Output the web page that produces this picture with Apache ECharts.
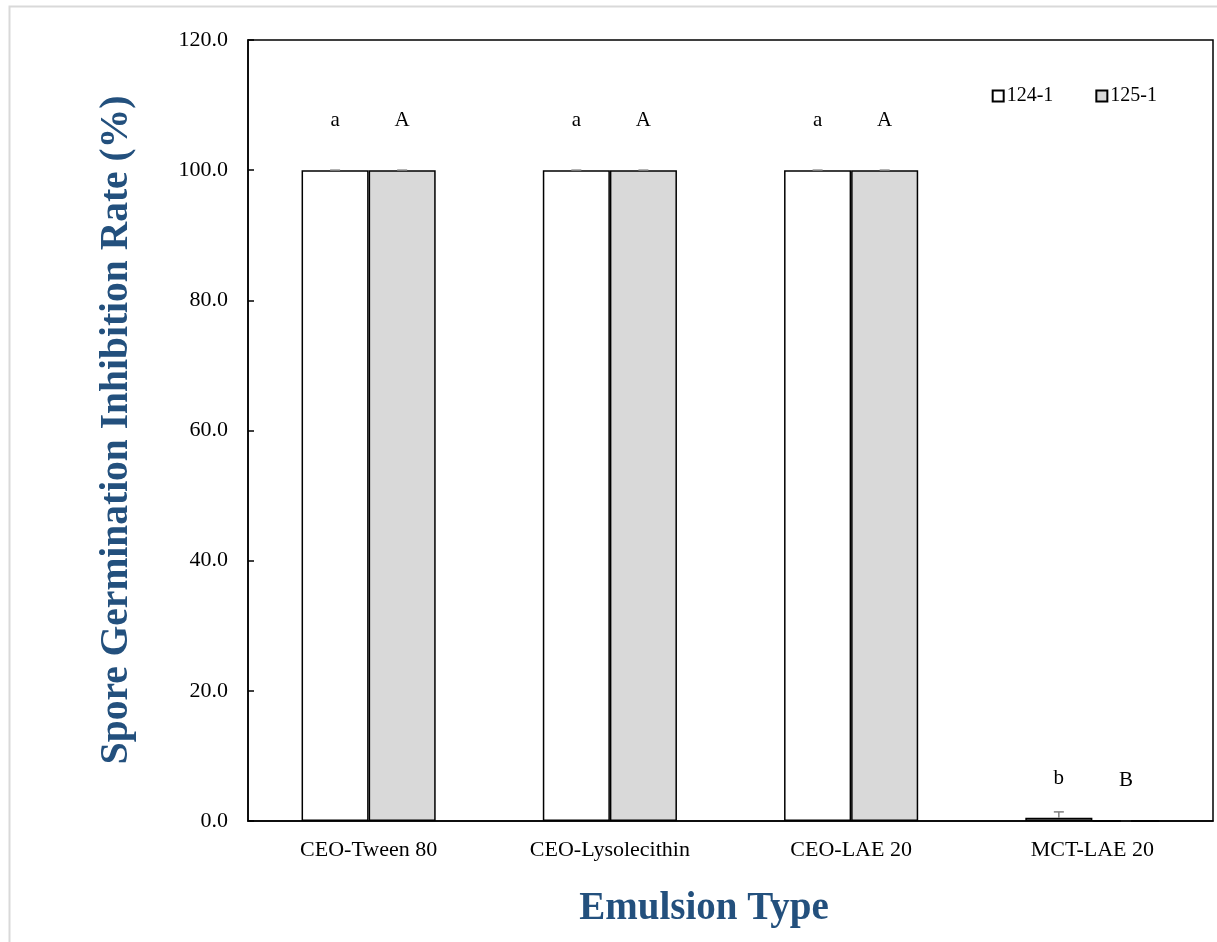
<!DOCTYPE html>
<html>
<head>
<meta charset="utf-8">
<title>Spore Germination Inhibition Rate</title>
<script src="https://cdn.jsdelivr.net/npm/echarts@6/dist/echarts.min.js"></script>
<style>
  html, body { margin: 0; padding: 0; background: #fff; }
  #chart { width: 1217px; height: 942px; }
</style>
</head>
<body>
<div id="chart"></div>
<script>
// Emulsion types on the x axis
const categories = ['CEO-Tween 80', 'CEO-Lysolecithin', 'CEO-LAE 20', 'MCT-LAE 20'];

// Strain 124-1
const strainA = '124-1';
const valuesA = [100.0, 100.0, 100.0, 0.5];
const errorsA = [0, 0, 0, 0.9];
const lettersA = ['a', 'a', 'a', 'b'];

// Strain 125-1
const strainB = '125-1';
const valuesB = [100.0, 100.0, 100.0, 0.0];
const errorsB = [0, 0, 0, 0];
const lettersB = ['A', 'A', 'A', 'B'];

const yTicks = { min: 0, max: 120, interval: 20 };

const FONT = '"Liberation Serif", "Times New Roman", serif';
const BAR_FRACTION = 0.278; // share of each category band taken by one bar

function barData(values, letters) {
  return values.map((v, i) => ({
    value: v,
    label: { formatter: letters[i], distance: v > 50 ? 39 : 29 }
  }));
}

function errorSeries(values, errors, side) {
  return {
    type: 'custom',
    silent: true,
    z: 5,
    data: values.map((v, i) => [i, v, errors[i]]),
    renderItem: function (params, api) {
      const band = api.size([1, 0])[0];
      const dx = side * band * BAR_FRACTION / 2;
      const base = api.coord([api.value(0), api.value(1)]);
      const top = api.coord([api.value(0), api.value(1) + api.value(2)]);
      const x = base[0] + dx;
      const cap = 5;
      return {
        type: 'group',
        children: [
          { type: 'line', shape: { x1: x, y1: base[1], x2: x, y2: top[1] },
            style: { stroke: '#7f7f7f', lineWidth: 1.5 } },
          { type: 'line', shape: { x1: x - cap, y1: top[1], x2: x + cap, y2: top[1] },
            style: { stroke: '#7f7f7f', lineWidth: 1.5 } }
        ]
      };
    }
  };
}

const chart = echarts.init(document.getElementById('chart'), null, { renderer: 'canvas' });

const labelStyle = {
  show: true,
  position: 'top',
  color: '#000',
  fontFamily: FONT,
  fontSize: 21
};

chart.setOption({
  backgroundColor: '#fff',
  animation: false,
  textStyle: { fontFamily: FONT },
  grid: { left: 248, top: 40, right: 4, bottom: 121, containLabel: false },
  legend: {
    right: 55,
    top: 81,
    itemWidth: 11,
    itemHeight: 11,
    itemGap: 42,
    icon: 'rect',
    textStyle: { fontFamily: FONT, fontSize: 20, color: '#000', padding: [0, 0, 0, -2] },
    data: [strainA, strainB]
  },
  xAxis: {
    type: 'category',
    data: categories,
    axisLine: { show: true, lineStyle: { color: '#000', width: 1.5 } },
    axisTick: { show: false },
    axisLabel: { color: '#000', fontFamily: FONT, fontSize: 22, margin: 18 }
  },
  yAxis: {
    type: 'value',
    min: yTicks.min,
    max: yTicks.max,
    interval: yTicks.interval,
    axisLine: { show: true, lineStyle: { color: '#000', width: 1.5 } },
    axisTick: { show: true, inside: true, length: 6, lineStyle: { color: '#000', width: 1.5 } },
    splitLine: { show: false },
    axisLabel: {
      color: '#000', fontFamily: FONT, fontSize: 22, margin: 20,
      formatter: v => v.toFixed(1)
    }
  },
  graphic: [
    {
      type: 'rect', silent: true, z: -10,
      shape: { x: 9.5, y: 6.5, width: 1300, height: 1000 },
      style: { fill: 'none', stroke: '#d9d9d9', lineWidth: 2 }
    },
    {
      type: 'rect', silent: true, z: 10,
      shape: { x: 248, y: 40, width: 965, height: 781 },
      style: { fill: 'none', stroke: '#000', lineWidth: 1.5 }
    },
    {
      type: 'text', silent: true,
      x: 117, y: 430, rotation: Math.PI / 2,
      style: {
        text: 'Spore Germination Inhibition Rate (%)',
        fill: '#23507d', fontFamily: FONT, fontWeight: 'bold', fontSize: 39.5,
        align: 'center', verticalAlign: 'middle'
      }
    },
    {
      type: 'text', silent: true,
      x: 704, y: 909,
      style: {
        text: 'Emulsion Type',
        fill: '#23507d', fontFamily: FONT, fontWeight: 'bold', fontSize: 39,
        align: 'center', verticalAlign: 'middle'
      }
    }
  ],
  series: [
    {
      name: strainA,
      type: 'bar',
      barWidth: (BAR_FRACTION * 100) + '%',
      barGap: '0%',
      itemStyle: { color: '#ffffff', borderColor: '#000', borderWidth: 1.5 },
      label: labelStyle,
      data: barData(valuesA, lettersA)
    },
    {
      name: strainB,
      type: 'bar',
      barWidth: (BAR_FRACTION * 100) + '%',
      barGap: '0%',
      itemStyle: { color: '#d9d9d9', borderColor: '#000', borderWidth: 1.5 },
      label: labelStyle,
      data: barData(valuesB, lettersB)
    },
    errorSeries(valuesA, errorsA, -1),
    errorSeries(valuesB, errorsB, 1)
  ]
});
</script>
</body>
</html>
